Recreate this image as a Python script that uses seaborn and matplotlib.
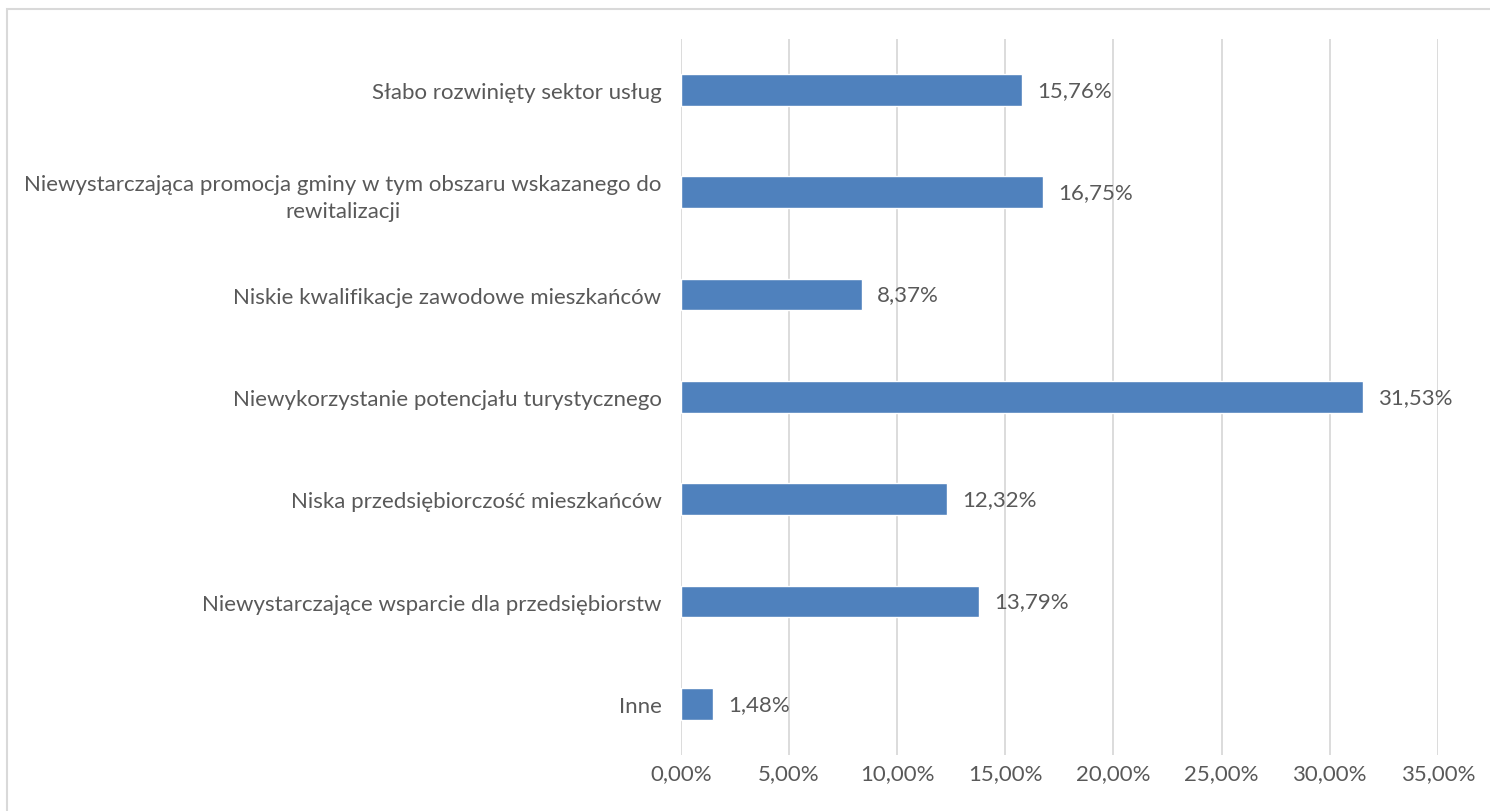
import matplotlib.pyplot as plt
import seaborn as sns
from matplotlib.patches import Rectangle
from matplotlib.ticker import FuncFormatter

categories = [
    'Słabo rozwinięty sektor usług',
    'Niewystarczająca promocja gminy w tym obszaru wskazanego do\nrewitalizacji',
    'Niskie kwalifikacje zawodowe mieszkańców',
    'Niewykorzystanie potencjału turystycznego',
    'Niska przedsiębiorczość mieszkańców',
    'Niewystarczające wsparcie dla przedsiębiorstw',
    'Inne',
]
values = [15.76, 16.75, 8.37, 31.53, 12.32, 13.79, 1.48]
x_ticks = [0, 5, 10, 15, 20, 25, 30, 35]

sns.set_style('white')
plt.rcParams['font.family'] = ['Lato', 'DejaVu Sans']
text_color = '#595959'
fs = 16

fig = plt.figure(figsize=(14.9, 8.12), dpi=100)
ax = fig.add_axes([0.457, 0.069, 0.508, 0.882])

sns.barplot(x=values, y=categories, orient='h', color='#4F81BD',
            width=0.31, saturation=1, ax=ax)

ax.set_xlim(0, 35)
ax.set_xticks(x_ticks)
ax.xaxis.set_major_formatter(FuncFormatter(lambda v, p: f'{v:.2f}%'.replace('.', ',')))
ax.grid(axis='x', color='#D9D9D9', linewidth=1.3)
ax.set_axisbelow(True)
for s in ax.spines.values():
    s.set_visible(False)
ax.tick_params(axis='both', length=0, labelsize=fs, colors=text_color)
ax.tick_params(axis='x', pad=6)
ax.tick_params(axis='y', pad=14)
for lbl in ax.get_yticklabels():
    lbl.set_multialignment('center')
    lbl.set_linespacing(1.4)
ax.set_xlabel('')
ax.set_ylabel('')

labels = [f'{v:.2f}%'.replace('.', ',') for v in values]
ax.bar_label(ax.containers[0], labels=labels, padding=11,
             fontsize=fs, color=text_color)

fig.patches.append(Rectangle((0.005, -0.01), 1.2, 0.998, transform=fig.transFigure,
                             fill=False, edgecolor='#D9D9D9', linewidth=1.5))

fig.savefig('out.png', dpi=100)
